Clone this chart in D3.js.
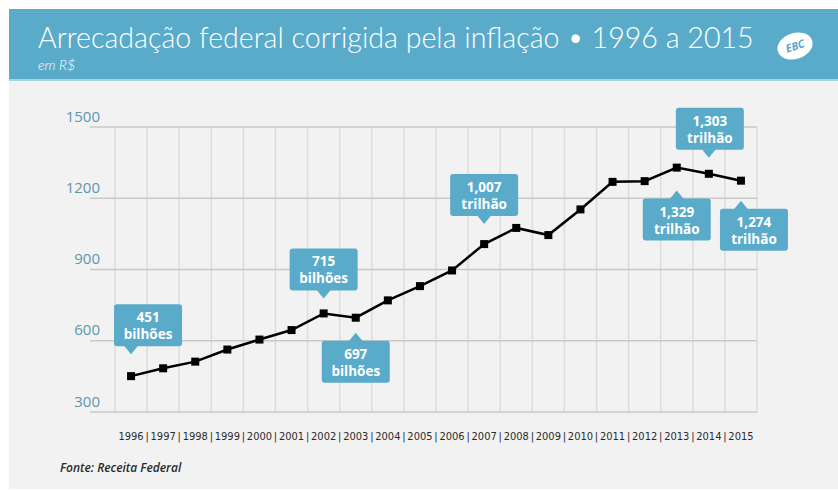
<!DOCTYPE html>
<html>
<head>
<meta charset="utf-8">
<script src="https://cdn.jsdelivr.net/npm/d3@7"></script>
<style>
  body { margin: 0; background: #fff; }
  svg { display: block; }
</style>
</head>
<body>
<div id="chart"></div>
<script>
// data
var years = ["1996", "1997", "1998", "1999", "2000", "2001", "2002", "2003", "2004", "2005",
             "2006", "2007", "2008", "2009", "2010", "2011", "2012", "2013", "2014", "2015"];
var revenue = [451, 484, 512, 563, 605, 645, 715, 697, 770, 830,
               896, 1007, 1075, 1045, 1153, 1269, 1272, 1329, 1303, 1274];
var yTicks = [300, 600, 900, 1200, 1500];

// callouts
var calloutYears = ["1996", "2002", "2003", "2007", "2013", "2014", "2015"];
var calloutValues = ["451", "715", "697", "1,007", "1,329", "1,303", "1,274"];
var calloutUnits = ["bilhões", "bilhões", "bilhões", "trilhão", "trilhão", "trilhão", "trilhão"];
var calloutSide = ["above", "above", "below", "above", "below", "above", "below"];

// layout of each callout: gap between point and pointer tip, box shift
var calloutGap = [22, 15, 15, 20, 23, 16, 20];
var calloutShift = [17, 0, 0, 0, 0, 1, 13];

var width = 838, height = 491;
var teal = "#5aabc9";

var svg = d3.select("#chart").append("svg")
    .attr("width", width)
    .attr("height", height);

// background panel + header band
svg.append("rect").attr("x", 9).attr("y", 9).attr("width", width - 9).attr("height", 480)
    .attr("fill", "#f2f2f2");
svg.append("rect").attr("x", 9).attr("y", 9).attr("width", width - 9).attr("height", 70)
    .attr("fill", teal);
svg.append("rect").attr("x", 9).attr("y", 79).attr("width", width - 9).attr("height", 2)
    .attr("fill", "#a6d2e2");

var title = svg.append("text")
    .attr("x", 38).attr("y", 48)
    .attr("fill", "#fff")
    .style("font-family", "Lato, 'Open Sans', sans-serif")
    .style("font-weight", 300)
    .style("font-size", "24px")
    .text("Arrecadação federal corrigida pela inflação • 1996 a 2015");
// fit title to the reference width
var tw = title.node().getComputedTextLength();
title.style("font-size", (24 * 716 / tw).toFixed(2) + "px");

svg.append("text")
    .attr("x", 38).attr("y", 70)
    .attr("fill", "#fff")
    .style("font-family", "Lato, 'Open Sans', sans-serif")
    .style("font-style", "italic")
    .style("font-weight", 300)
    .style("font-size", "14px")
    .text("em R$");

// EBC logo
var logo = svg.append("g").attr("transform", "translate(795,46) rotate(-18)");
logo.append("ellipse").attr("rx", 18).attr("ry", 13).attr("fill", "#fff");
logo.append("text")
    .attr("text-anchor", "middle").attr("y", 4)
    .attr("fill", teal)
    .style("font-family", "'Open Sans', sans-serif")
    .style("font-weight", 700).style("font-style", "italic")
    .style("font-size", "11px")
    .text("EBC");

// scales
var x = d3.scaleBand().domain(years).range([115, 757]).padding(0);
var y = d3.scaleLinear().domain([300, 1500]).range([412, 127]);

var g = svg.append("g");

// vertical grid (band edges)
var edges = years.map(function(d) { return x(d); }).concat([x.range()[1]]);
g.selectAll(".vgrid")
    .data(edges)
    .enter().append("line")
    .attr("class", "vgrid")
    .attr("x1", function(d) { return d; })
    .attr("x2", function(d) { return d; })
    .attr("y1", y(1500))
    .attr("y2", y(300))
    .attr("stroke", "#dcdcdc")
    .attr("stroke-width", 1.5);

// horizontal grid + y labels
var yAxis = d3.axisLeft(y).tickValues(yTicks).tickFormat(d3.format("d")).tickSize(0).tickPadding(0);
var ya = g.append("g").attr("transform", "translate(100,0)").call(yAxis);
ya.select(".domain").remove();
ya.selectAll("text")
    .attr("dy", "-6")
    .attr("fill", "#5e96ac")
    .style("font-family", "'Open Sans', sans-serif")
    .style("font-size", "15px");
g.selectAll(".hgrid")
    .data(yTicks)
    .enter().append("line")
    .attr("class", "hgrid")
    .attr("x1", 90)
    .attr("x2", 757)
    .attr("y1", function(d) { return y(d); })
    .attr("y2", function(d) { return y(d); })
    .attr("stroke", "#c9c9c9")
    .attr("stroke-width", 1.5);

// x labels
var xAxis = d3.axisBottom(x).tickSize(0).tickPadding(0);
var xa = g.append("g").attr("transform", "translate(0,440)").call(xAxis);
xa.select(".domain").remove();
xa.selectAll("text")
    .attr("dy", 0)
    .attr("y", 0)
    .attr("fill", "#2a2a2a")
    .style("font-family", "'Liberation Sans Narrow', 'DejaVu Sans Condensed', sans-serif")
    .style("font-size", "11px");
g.selectAll(".sep")
    .data(years.slice(1))
    .enter().append("text")
    .attr("class", "sep")
    .attr("x", function(d) { return x(d); })
    .attr("y", 440)
    .attr("text-anchor", "middle")
    .attr("fill", "#2a2a2a")
    .style("font-family", "'Liberation Sans Narrow', 'DejaVu Sans Condensed', sans-serif")
    .style("font-size", "11px")
    .text("|");

// line + markers
var cx = function(d, i) { return x(years[i]) + x.bandwidth() / 2; };
var line = d3.line()
    .x(function(d, i) { return cx(d, i); })
    .y(function(d) { return y(d); });
g.append("path")
    .datum(revenue)
    .attr("d", line)
    .attr("fill", "none")
    .attr("stroke", "#000")
    .attr("stroke-width", 2.5);
g.selectAll(".mark")
    .data(revenue)
    .enter().append("rect")
    .attr("class", "mark")
    .attr("x", function(d, i) { return cx(d, i) - 4; })
    .attr("y", function(d) { return y(d) - 4; })
    .attr("width", 8)
    .attr("height", 8)
    .attr("fill", "#000");

// callouts
var bw = 68, bh = 42, ph = 8, pw = 7;
calloutYears.forEach(function(yr, k) {
    var i = years.indexOf(yr);
    var px = x(yr) + x.bandwidth() / 2;
    var py = y(revenue[i]);
    var up = calloutSide[k] === "above";
    var tipY = up ? py - calloutGap[k] : py + calloutGap[k];
    var boxCx = px + calloutShift[k];
    var boxY = up ? tipY - ph - bh : tipY + ph;
    var c = g.append("g");
    c.append("rect")
        .attr("x", boxCx - bw / 2).attr("y", boxY)
        .attr("width", bw).attr("height", bh)
        .attr("rx", 3)
        .attr("fill", teal);
    var baseY = up ? tipY - ph - 0.5 : tipY + ph + 0.5;
    c.append("path")
        .attr("d", "M" + (px - pw) + "," + baseY + "L" + px + "," + tipY + "L" + (px + pw) + "," + baseY + "Z")
        .attr("fill", teal);
    c.append("text")
        .attr("x", boxCx).attr("y", boxY + 18)
        .attr("text-anchor", "middle")
        .attr("fill", "#fff")
        .style("font-family", "'Open Sans', sans-serif")
        .style("font-weight", 700)
        .style("font-size", "13.5px")
        .text(calloutValues[k]);
    c.append("text")
        .attr("x", boxCx).attr("y", boxY + 35)
        .attr("text-anchor", "middle")
        .attr("fill", "#fff")
        .style("font-family", "'Open Sans', sans-serif")
        .style("font-weight", 700)
        .style("font-size", "13.5px")
        .text(calloutUnits[k]);
});

// source
svg.append("text")
    .attr("x", 60).attr("y", 472)
    .attr("fill", "#2a2a2a")
    .style("font-family", "'Open Sans', sans-serif")
    .style("font-style", "italic")
    .style("font-weight", 600)
    .style("font-size", "12px")
    .text("Fonte: Receita Federal");
</script>
</body>
</html>
